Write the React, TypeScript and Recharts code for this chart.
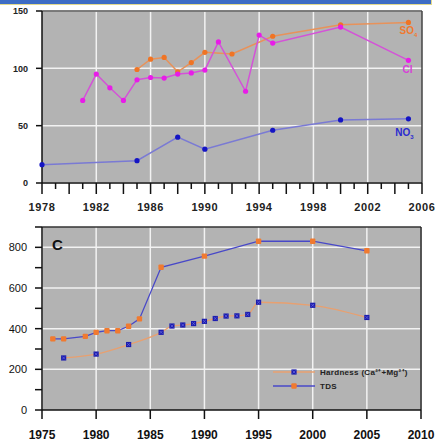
import React from "react";
import {
  CartesianGrid,
  Line,
  LineChart,
  ReferenceLine,
  XAxis,
  YAxis,
} from "recharts";

// top panel: ions (mg/l)
const clYears = [1981, 1982, 1983, 1984, 1985, 1986, 1987, 1988, 1989, 1990, 1991, 1993, 1994, 1995, 2000, 2005];
const clValues = [72, 95, 83, 72, 90, 92, 91.5, 95, 96, 98.5, 123, 80, 129, 122, 136, 107];
const so4Years = [1985, 1986, 1987, 1988, 1989, 1990, 1992, 1995, 2000, 2005];
const so4Values = [99, 108, 109.5, 97, 105, 114, 112.5, 128, 138, 140];
const no3Years = [1978, 1985, 1988, 1990, 1995, 2000, 2005];
const no3Values = [16, 19.5, 40, 29.5, 46, 55, 56];

const topYearTicks = Array.from({ length: 29 }, (_, i) => 1978 + i);
const topGridYears = [1982, 1986, 1990, 1994, 1998, 2002];
const topValueTicks = [0, 50, 100, 150];

// bottom panel (C): hardness and TDS
const tdsYears = [1976, 1977, 1979, 1980, 1981, 1982, 1983, 1984, 1986, 1990, 1995, 2000, 2005];
const tdsValues = [350, 350, 362, 382, 390, 390, 412, 448, 702, 757, 830, 830, 783];
const hardYears = [1977, 1980, 1983, 1986, 1987, 1988, 1989, 1990, 1991, 1992, 1993, 1994, 1995, 2000, 2005];
const hardValues = [256, 275, 322, 382, 413, 418, 425, 436, 450, 462, 463, 470, 530, 515, 455];

const bottomYearTicks = [1975, 1980, 1985, 1990, 1995, 2000, 2005, 2010];
const bottomValueTicks = [0, 100, 200, 300, 400, 500, 600, 700, 800, 900];
const bottomGridValues = [200, 400, 600, 800];

const zip = (xs: number[], ys: number[]) => xs.map((year, i) => ({ year, value: ys[i] }));

const clData = zip(clYears, clValues);
const so4Data = zip(so4Years, so4Values);
const no3Data = zip(no3Years, no3Values);
const tdsData = zip(tdsYears, tdsValues);
const hardData = zip(hardYears, hardValues);

const PLOT_BG = "#b3b3b3";
const GRID = "#f2f2f2";
const FONT = "'Liberation Sans', Arial, sans-serif";

function TopYearTick({ x, y, payload }: any) {
  const yr = payload.value as number;
  const long = yr % 2 === 0;
  const labeled = (yr - 1978) % 4 === 0;
  return (
    <g>
      <line x1={x} x2={x} y1={y} y2={y + (long ? 11 : 6)} stroke="#111" strokeWidth={1.5} />
      {labeled && (
        <text
          x={x}
          y={y + 28}
          textAnchor="middle"
          fontSize={11}
          fontWeight="bold"
          letterSpacing={0.6}
          fill="#222"
          fontFamily={FONT}
        >
          {yr}
        </text>
      )}
    </g>
  );
}

function BottomValueTick({ x, y, payload }: any) {
  const v = payload.value as number;
  if (v % 200 !== 0 || v > 800) return <g />;
  return (
    <text x={x} y={y + 4} textAnchor="end" fontSize={11} fill="#111" fontFamily={FONT}>
      {v}
    </text>
  );
}

function SeriesLabel(color: string, main: string, sub: string | null, dx: number, dy: number, lastIndex: number) {
  return (props: any) => {
    if (props.index !== lastIndex) return null;
    return (
      <text
        x={props.x + dx}
        y={props.y + dy}
        textAnchor="middle"
        fontSize={10}
        fontWeight="bold"
        fill={color}
        fontFamily={FONT}
      >
        {main}
        {sub && (
          <tspan fontSize={6} dy={3}>
            {sub}
          </tspan>
        )}
      </text>
    );
  };
}

function HardnessDot({ cx, cy }: any) {
  if (cx == null || cy == null) return null;
  return (
    <g>
      <rect x={cx - 2.6} y={cy - 2.6} width={5.2} height={5.2} fill="#1c1cae" />
      <path
        d={`M${cx - 1.4},${cy - 1.4}L${cx + 1.4},${cy + 1.4}M${cx - 1.4},${cy + 1.4}L${cx + 1.4},${cy - 1.4}`}
        stroke="#6c6ce0"
        strokeWidth={0.7}
      />
    </g>
  );
}

function TdsDot({ cx, cy }: any) {
  if (cx == null || cy == null) return null;
  return <rect x={cx - 2.7} y={cy - 2.7} width={5.4} height={5.4} rx={1} fill="#f07a30" />;
}

function BottomLegend() {
  return (
    <svg width={150} height={30} style={{ overflow: "visible", display: "block" }}>
      <line x1={0} y1={7} x2={42} y2={7} stroke="#e8a070" strokeWidth={1.5} />
      <HardnessDot cx={21} cy={7} />
      <text x={47} y={10} fontSize={8} fontWeight="bold" fill="#222" fontFamily={FONT} letterSpacing={0.3}>
        Hardness (Ca²⁺+Mg²⁺)
      </text>
      <line x1={0} y1={21} x2={42} y2={21} stroke="#4848c8" strokeWidth={1.5} />
      <TdsDot cx={21} cy={21} />
      <text x={47} y={24} fontSize={8} fontWeight="bold" fill="#222" fontFamily={FONT} letterSpacing={0.3}>
        TDS
      </text>
    </svg>
  );
}

function TopChart() {
  return (
    <LineChart width={435} height={215} margin={{ top: 11, right: 13, bottom: 2, left: 0 }}>
      <CartesianGrid vertical={false} horizontal={true} stroke={GRID} strokeWidth={1.5} fill={PLOT_BG} />
      {topGridYears.map((yr) => (
        <ReferenceLine key={yr} x={yr} stroke={GRID} strokeWidth={1.5} />
      ))}
      <ReferenceLine y={150} stroke="#555" strokeWidth={1.5} />
      <ReferenceLine x={2006} stroke="#444" strokeWidth={1.5} />
      <XAxis
        dataKey="year"
        type="number"
        domain={[1978, 2006]}
        ticks={topYearTicks}
        interval={0}
        height={30}
        tickSize={0}
        tickMargin={0}
        tickLine={false}
        tick={<TopYearTick />}
        axisLine={{ stroke: "#111", strokeWidth: 1.5 }}
        allowDuplicatedCategory={false}
      />
      <YAxis
        type="number"
        domain={[0, 150]}
        ticks={topValueTicks}
        width={42}
        tickSize={6}
        tickMargin={8}
        tick={{ fontSize: 9, fontWeight: "bold", fill: "#222", fontFamily: FONT }}
        tickLine={{ stroke: "#111", strokeWidth: 1.5 }}
        axisLine={{ stroke: "#111", strokeWidth: 1.5 }}
      />
      <Line
        data={so4Data}
        dataKey="value"
        type="linear"
        stroke="#e8925a"
        strokeWidth={1.5}
        dot={{ r: 2.6, fill: "#f07424", stroke: "none" }}
        label={SeriesLabel("#f07a30", "SO", "4", 0, 12, so4Data.length - 1)}
        isAnimationActive={false}
      />
      <Line
        data={clData}
        dataKey="value"
        type="linear"
        stroke="#d452d8"
        strokeWidth={1.5}
        dot={{ r: 2.6, fill: "#e81ce8", stroke: "none" }}
        label={SeriesLabel("#d840d8", "Cl", null, -1, 13, clData.length - 1)}
        isAnimationActive={false}
      />
      <Line
        data={no3Data}
        dataKey="value"
        type="linear"
        stroke="#7a7ad4"
        strokeWidth={1.5}
        dot={{ r: 2.6, fill: "#1414c4", stroke: "none" }}
        label={SeriesLabel("#2a2ad0", "NO", "3", -4, 17, no3Data.length - 1)}
        isAnimationActive={false}
      />
    </LineChart>
  );
}

function BottomChart() {
  return (
    <LineChart width={435} height={228} margin={{ top: 12, right: 14, bottom: 3, left: 0 }}>
      <CartesianGrid vertical={true} horizontal={false} stroke={GRID} strokeWidth={1.5} fill={PLOT_BG} />
      {bottomGridValues.map((v) => (
        <ReferenceLine key={v} y={v} stroke={GRID} strokeWidth={1.5} />
      ))}
      <ReferenceLine y={900} stroke="#333" strokeWidth={1.5} />
      <ReferenceLine x={2010} stroke="#222" strokeWidth={1.5} />
      <XAxis
        dataKey="year"
        type="number"
        domain={[1975, 2010]}
        ticks={bottomYearTicks}
        interval={0}
        height={30}
        tickSize={9}
        tickMargin={11}
        tick={{ fontSize: 12, fontWeight: "bold", fill: "#111", fontFamily: FONT }}
        tickLine={{ stroke: "#111", strokeWidth: 1.5 }}
        axisLine={{ stroke: "#111", strokeWidth: 1.5 }}
        allowDuplicatedCategory={false}
      />
      <YAxis
        type="number"
        domain={[0, 900]}
        ticks={bottomValueTicks}
        interval={0}
        width={42}
        tickSize={7}
        tickMargin={8}
        tick={<BottomValueTick />}
        tickLine={{ stroke: "#111", strokeWidth: 1.5 }}
        axisLine={{ stroke: "#111", strokeWidth: 1.5 }}
      />
      <Line
        data={tdsData}
        dataKey="value"
        name="TDS"
        type="linear"
        stroke="#4848c8"
        strokeWidth={1.3}
        dot={<TdsDot />}
        isAnimationActive={false}
      />
      <Line
        data={hardData}
        dataKey="value"
        name="Hardness"
        type="monotone"
        stroke="#e8a070"
        strokeWidth={1.3}
        dot={<HardnessDot />}
        isAnimationActive={false}
      />
    </LineChart>
  );
}

export default function App() {
  return (
    <div style={{ position: "absolute", left: 0, top: 0, width: 435, height: 443, background: "#fff", overflow: "hidden" }}>
      <div
        style={{
          position: "absolute",
          left: 0,
          top: 0,
          width: 431,
          height: 4,
          background: "#3d6cc4",
          borderBottom: "1px solid #e2d98e",
          borderRight: "1px solid #e2d98e",
        }}
      />
      <div style={{ position: "absolute", left: 0, top: 0 }}>
        <TopChart />
      </div>
      <div style={{ position: "absolute", left: 0, top: 215 }}>
        <BottomChart />
      </div>
      <div style={{ position: "absolute", left: 273, top: 365 }}>
        <BottomLegend />
      </div>
      <div
        style={{
          position: "absolute",
          left: 52,
          top: 236,
          fontFamily: FONT,
          fontWeight: "bold",
          fontSize: 15,
          color: "#111",
        }}
      >
        C
      </div>
    </div>
  );
}
